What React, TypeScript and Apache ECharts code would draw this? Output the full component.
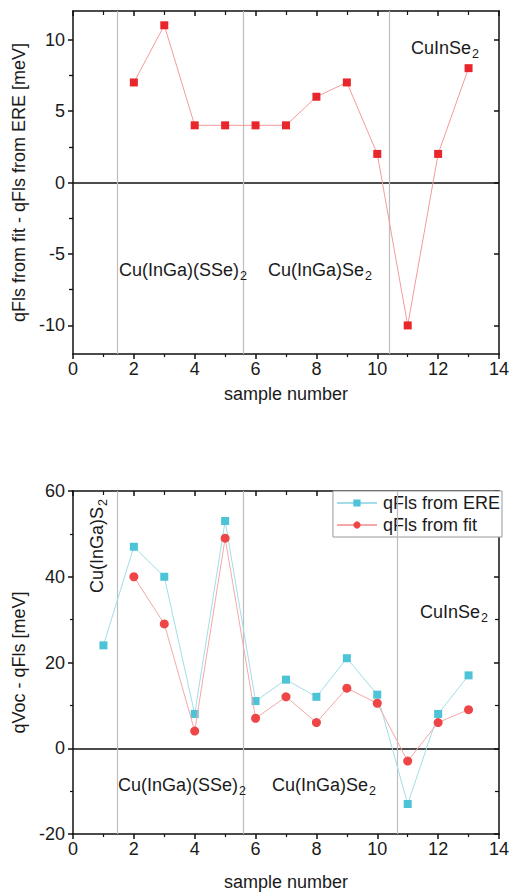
import React, { useEffect, useRef } from "react";
import * as echarts from "echarts";

const topSamples = [2, 3, 4, 5, 6, 7, 8, 9, 10, 11, 12, 13];
const fitMinusEre = [7, 11, 4, 4, 4, 4, 6, 7, 2, -10, 2, 8];

const ereSamples = [1, 2, 3, 4, 5, 6, 7, 8, 9, 10, 11, 12, 13];
const ereValues = [24, 47, 40, 8, 53, 11, 16, 12, 21, 12.5, -13, 8, 17];

const fitSamples = [2, 3, 4, 5, 6, 7, 8, 9, 10, 11, 12, 13];
const fitValues = [40, 29, 4, 49, 7, 12, 6, 14, 10.5, -3, 6, 9];

const topYMajor = [-10, -5, 0, 5, 10];
const topYMinor = [-7.5, -2.5, 2.5, 7.5];

const topDividers = [1.44, 5.6, 10.4];
const bottomDividers = [1.44, 5.6, 10.65];

const FONT = "'Liberation Sans', Arial, Helvetica, sans-serif";
const TXT = "#1a1a1a";

function richLabel(main: string, sub: string, x: number, y: number, extra: any = {}) {
  return {
    type: "text",
    x,
    y,
    z: 100,
    ...extra,
    style: {
      text: `{n|${main}}{s|${sub}}`,
      fill: TXT,
      align: extra.align || "left",
      verticalAlign: "middle",
      rich: {
        n: { fontSize: 18, fontFamily: FONT, fill: TXT },
        s: { fontSize: 12.5, fontFamily: FONT, fill: TXT, padding: [11, 0, 0, 1] },
      },
    },
  };
}

export default function App() {
  const ref = useRef<HTMLDivElement>(null);

  useEffect(() => {
    if (!ref.current) return;
    const chart = echarts.init(ref.current, undefined, { renderer: "svg" });

    const axisLine = { show: true, onZero: false, lineStyle: { color: "#111", width: 1.5 } };
    const axisLabel = { color: TXT, fontSize: 18, fontFamily: FONT };
    const nameTextStyle = { color: TXT, fontSize: 18, fontFamily: FONT };

    const xBottom = (gridIndex: number, nameGap: number) => ({
      type: "value",
      gridIndex,
      position: "bottom",
      min: 0,
      max: 14,
      interval: 2,
      axisLine,
      axisTick: { show: true, inside: false, length: 5, lineStyle: { color: "#111", width: 1.5 } },
      minorTick: { show: true, splitNumber: 2, length: 3, lineStyle: { color: "#111", width: 1.2 } },
      splitLine: { show: false },
      axisLabel: { ...axisLabel, margin: 6 },
      name: "sample number",
      nameLocation: "middle",
      nameGap,
      nameTextStyle,
    });
    const xTop = (gridIndex: number) => ({
      type: "value",
      gridIndex,
      position: "top",
      min: 0,
      max: 14,
      interval: 2,
      axisLine,
      axisTick: { show: true, inside: true, length: 5, lineStyle: { color: "#111", width: 1.5 } },
      minorTick: { show: true, splitNumber: 2, length: 4, lineStyle: { color: "#111", width: 1.2 } },
      splitLine: { show: false },
      axisLabel: { show: false },
    });

    const option: any = {
      animation: false,
      backgroundColor: "#fff",
      textStyle: { fontFamily: FONT },
      grid: [
        { left: 73, right: 10, top: 11, height: 343 },
        { left: 73, right: 10, top: 491, height: 344 },
      ],
      xAxis: [xBottom(0, 31), xTop(0), xBottom(1, 39), xTop(1)],
      yAxis: [
        {
          type: "value",
          gridIndex: 0,
          position: "left",
          min: -12,
          max: 12,
          axisLine,
          axisTick: { show: true, inside: false, length: 5, customValues: topYMajor, lineStyle: { color: "#111", width: 1.5 } },
          axisLabel: { ...axisLabel, margin: 8, customValues: topYMajor },
          splitLine: { show: false },
          name: "qFls from fit - qFls from ERE [meV]",
          nameLocation: "middle",
          nameGap: 44,
          nameTextStyle,
        },
        {
          type: "value",
          gridIndex: 0,
          position: "left",
          min: -12,
          max: 12,
          axisLine: { show: false },
          axisTick: { show: true, inside: false, length: 3, customValues: topYMinor, lineStyle: { color: "#111", width: 1.2 } },
          axisLabel: { show: false },
          splitLine: { show: false },
        },
        {
          type: "value",
          gridIndex: 0,
          position: "right",
          min: -12,
          max: 12,
          axisLine,
          axisTick: { show: true, inside: true, length: 5, customValues: topYMajor, lineStyle: { color: "#111", width: 1.5 } },
          axisLabel: { show: false },
          splitLine: { show: false },
        },
        {
          type: "value",
          gridIndex: 0,
          position: "right",
          min: -12,
          max: 12,
          axisLine: { show: false },
          axisTick: { show: true, inside: true, length: 4, customValues: topYMinor, lineStyle: { color: "#111", width: 1.2 } },
          axisLabel: { show: false },
          splitLine: { show: false },
        },
        {
          type: "value",
          gridIndex: 1,
          position: "left",
          min: -20,
          max: 60,
          interval: 20,
          axisLine,
          axisTick: { show: true, inside: false, length: 5, lineStyle: { color: "#111", width: 1.5 } },
          minorTick: { show: true, splitNumber: 2, length: 3, lineStyle: { color: "#111", width: 1.2 } },
          axisLabel: { ...axisLabel, margin: 8 },
          splitLine: { show: false },
          name: "qVoc - qFls [meV]",
          nameLocation: "middle",
          nameGap: 40,
          nameTextStyle,
        },
        {
          type: "value",
          gridIndex: 1,
          position: "right",
          min: -20,
          max: 60,
          interval: 20,
          axisLine,
          axisTick: { show: true, inside: true, length: 5, lineStyle: { color: "#111", width: 1.5 } },
          minorTick: { show: true, splitNumber: 2, length: 4, lineStyle: { color: "#111", width: 1.2 } },
          axisLabel: { show: false },
          splitLine: { show: false },
        },
      ],
      legend: {
        data: ["qFls from ERE", "qFls from fit"],
        orient: "vertical",
        right: 10,
        top: 491,
        itemWidth: 40,
        itemHeight: 9,
        itemGap: 4,
        padding: [3, 2, 3, 3],
        borderColor: "#999",
        borderWidth: 1,
        backgroundColor: "#fff",
        selectedMode: false,
        textStyle: { color: TXT, fontSize: 18, fontFamily: FONT, padding: [0, 0, 0, 1] },
      },
      series: [
        {
          name: "difference",
          type: "line",
          xAxisIndex: 0,
          yAxisIndex: 0,
          data: topSamples.map((s, i) => [s, fitMinusEre[i]]),
          symbol: "rect",
          symbolSize: 8,
          itemStyle: { color: "#e8262b" },
          lineStyle: { color: "#f49a9a", width: 1 },
          z: 5,
          markLine: {
            silent: true,
            symbol: ["none", "none"],
            label: { show: false },
            lineStyle: { color: "#bdbdbd", width: 1.2, type: "solid" },
            data: [
              { yAxis: 0, lineStyle: { color: "#111", width: 1.5, type: "solid" } },
              ...topDividers.map((d) => ({ xAxis: d })),
            ],
          },
        },
        {
          name: "qFls from ERE",
          type: "line",
          xAxisIndex: 2,
          yAxisIndex: 4,
          data: ereSamples.map((s, i) => [s, ereValues[i]]),
          symbol: "rect",
          symbolSize: 8,
          itemStyle: { color: "#4cc3d6" },
          lineStyle: { color: "#a3dde8", width: 1 },
          z: 5,
          markLine: {
            silent: true,
            symbol: ["none", "none"],
            label: { show: false },
            lineStyle: { color: "#bdbdbd", width: 1.2, type: "solid" },
            data: [
              { yAxis: 0, lineStyle: { color: "#111", width: 1.5, type: "solid" } },
              ...bottomDividers.map((d) => ({ xAxis: d })),
            ],
          },
        },
        {
          name: "qFls from fit",
          type: "line",
          xAxisIndex: 2,
          yAxisIndex: 4,
          data: fitSamples.map((s, i) => [s, fitValues[i]]),
          symbol: "circle",
          symbolSize: 9,
          itemStyle: { color: "#ee4646" },
          lineStyle: { color: "#f6a8a8", width: 1 },
          z: 6,
        },
      ],
      graphic: [
        richLabel("Cu(InGa)(SSe)", "2", 119, 270),
        richLabel("Cu(InGa)Se", "2", 268, 270),
        richLabel("CuInSe", "2", 411, 48),
        richLabel("Cu(InGa)(SSe)", "2", 118, 785),
        richLabel("Cu(InGa)Se", "2", 272, 785),
        richLabel("CuInSe", "2", 420, 612),
        richLabel("Cu(InGa)S", "2", 97, 546, { rotation: Math.PI / 2, align: "center" }),
      ],
    };

    chart.setOption(option);
    return () => chart.dispose();
  }, []);

  return (
    <div
      ref={ref}
      style={{ width: 512, height: 892, position: "absolute", left: 0, top: 0 }}
    />
  );
}
